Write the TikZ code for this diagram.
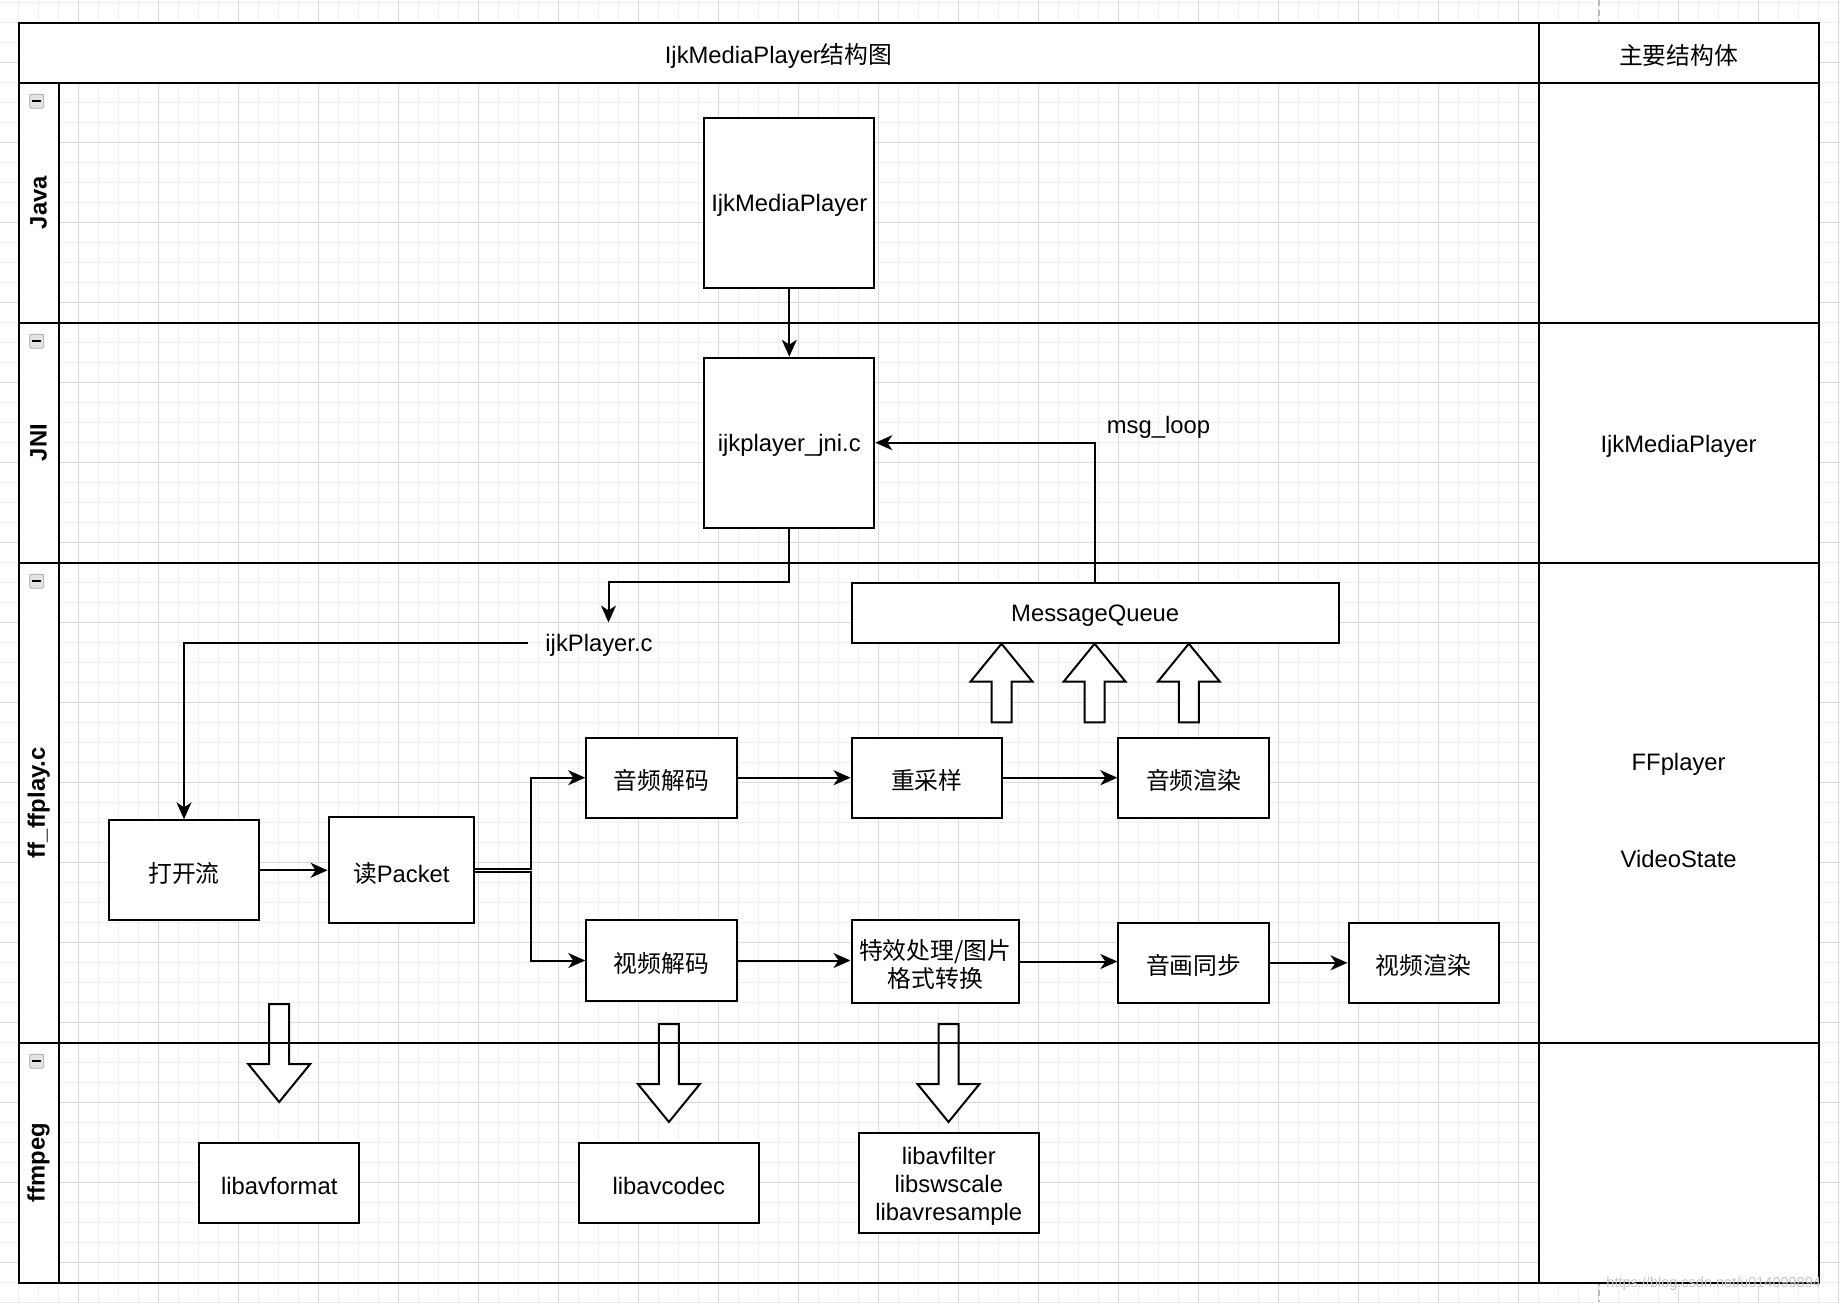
\documentclass[tikz,border=0pt]{standalone}
\usepackage{fontspec}
\setmainfont{Liberation Sans}
\newfontfamily\cjk{Noto Sans CJK SC}
\usetikzlibrary{arrows.meta,calc}
\definecolor{gminor}{HTML}{EFEFEF}
\definecolor{gmajor}{HTML}{D8D8D8}
\newcommand{\fs}{\fontsize{23.8pt}{28pt}\selectfont}
\newcommand{\dn}[1]{\raisebox{-3pt}[\height][\depth]{#1}}
\newcommand{\blkup}[3]{\draw[blk] ({#1-10},#3) -- ({#1-10},{#2+38}) -- ({#1-31},{#2+38}) -- (#1,#2) -- ({#1+31},{#2+38}) -- ({#1+10},{#2+38}) -- ({#1+10},#3) -- cycle;}
\newcommand{\blkdown}[3]{\draw[blk] ({#1-10},#2) -- ({#1-10},{#3-38}) -- ({#1-31},{#3-38}) -- (#1,#3) -- ({#1+31},{#3-38}) -- ({#1+10},{#3-38}) -- ({#1+10},#2) -- cycle;}
\newcommand{\lanicon}[2]{\node[icon] (#1) at (36.7,#2) {}; \draw[line width=2.4pt] ($(#1.center)+(-4.5,0)$) -- ($(#1.center)+(4.5,0)$);}
\begin{document}
\begin{tikzpicture}[x=1pt,y=-1pt,
  minorg/.style={draw=gminor, line width=1.2pt},
  majorg/.style={draw=gmajor, line width=1.2pt},
  lane/.style={draw=black, line width=2.2pt},
  bx/.style n args={2}{draw=black, fill=white, line width=2pt, minimum width=#1, minimum height=#2, inner sep=0pt, align=center, font=\fs},
  txt/.style={inner sep=0pt, align=center, font=\fs},
  lanelabel/.style={rotate=90, font=\fs\bfseries, inner sep=0pt},
  arr/.style={draw=black, line width=2pt, -{Stealth[length=17pt, width=15pt, inset=5pt]}},
  blk/.style={draw=black, fill=white, line width=2pt, line join=miter},
  icon/.style={draw=gray!70, fill=gray!22, line width=0.8pt, rounded corners=1.5pt, minimum width=14pt, minimum height=14pt, inner sep=0pt}
]
\useasboundingbox (0,0) rectangle (1840,1302);
\fill[white] (0,0) rectangle (1840,1302);
% background grid
\foreach \i in {0,...,92} {\draw[minorg] ({-1.4+20*\i},0) -- ({-1.4+20*\i},1302);}
\foreach \j in {0,...,65} {\draw[minorg] (0,{2.7+20*\j}) -- (1840,{2.7+20*\j});}
\foreach \i in {0,...,23} {\draw[majorg] ({-1.4+80*\i},0) -- ({-1.4+80*\i},1302);}
\foreach \j in {0,...,16} {\draw[majorg] (0,{-17.3+80*\j}) -- (1840,{-17.3+80*\j});}
% page break
\draw[gray!55, dashed, dash pattern=on 6pt off 4pt, line width=1.2pt] (1599,0) -- (1599,1302);
% white parts of the pool
\fill[white] (18.6,22.7) rectangle (1818.6,82.7);
\fill[white] (1538.6,82.7) rectangle (1818.6,1282.7);
\fill[white] (18.6,82.7) rectangle (58.6,1282.7);
% block arrows
\blkup{1001.5}{643.7}{722.3}
\blkup{1094.6}{643.7}{722.3}
\blkup{1188.8}{643.7}{722.3}
\blkdown{279.2}{1004}{1102}
\blkdown{668.9}{1024}{1122}
\blkdown{948.5}{1024}{1122}
% pool and lanes
\draw[lane] (18.6,22.7) rectangle (1818.6,1282.7);
\draw[lane] (18.6,82.7) -- (1818.6,82.7);
\draw[lane] (18.6,322.7) -- (1818.6,322.7);
\draw[lane] (18.6,562.7) -- (1818.6,562.7);
\draw[lane] (18.6,1042.7) -- (1818.6,1042.7);
\draw[lane] (58.6,82.7) -- (58.6,1282.7);
\draw[lane] (1538.6,22.7) -- (1538.6,1282.7);
% headers
\node[txt] (title) at (778.6,52.7) {\dn{IjkMediaPlayer{\cjk 结构图}}};
\node[txt] (main) at (1678.6,52.7) {\dn{\cjk 主要结构体}};
\node[lanelabel] (ljava) at (38.6,202.7) {Java};
\node[lanelabel] (ljni) at (38.6,442.7) {JNI};
\node[lanelabel] (lff) at (38.6,802.7) {ff\_ffplay.c};
\node[lanelabel] (lffm) at (38.6,1162.7) {ffmpeg};
\lanicon{ic1}{101.2}
\lanicon{ic2}{341.2}
\lanicon{ic3}{581.2}
\lanicon{ic4}{1061.2}
% right column
\node[txt] (sjni) at (1678.6,443.6) {\dn{IjkMediaPlayer}};
\node[txt] (sff1) at (1678.6,761.6) {\dn{FFplayer}};
\node[txt] (sff2) at (1678.6,855.5) {\dn{VideoState}};
% boxes
\node[bx={170pt}{170pt}] (imp) at (789.3,202.7) {\dn{IjkMediaPlayer}};
\node[bx={170pt}{170pt}] (jni) at (789.3,442.7) {\dn{ijkplayer\_jni.c}};
\node[bx={487pt}{60pt}] (mq) at (1095.2,612.7) {\dn{MessageQueue}};
\node[txt, minimum width=142pt, minimum height=40pt] (ijkc) at (599,642.7) {\dn{ijkPlayer.c}};
\node[txt] (msgl) at (1158.5,424) {\dn{msg\_loop}};
\node[bx={150pt}{100pt}] (open) at (184,870.3) {\dn{\cjk 打开流}};
\node[bx={145.4pt}{105.7pt}] (rp) at (401.3,870.2) {\dn{{\cjk 读}Packet}};
\node[bx={150.5pt}{80pt}] (ad) at (661.5,777.7) {\dn{\cjk 音频解码}};
\node[bx={150.5pt}{80.4pt}] (vd) at (661.5,960.5) {\dn{\cjk 视频解码}};
\node[bx={150.5pt}{80pt}] (rs) at (926.8,777.7) {\dn{\cjk 重采样}};
\node[bx={150.5pt}{80pt}] (ar) at (1193.6,777.7) {\dn{\cjk 音频渲染}};
\node[bx={167.4pt}{83pt}] (fx) at (935.2,961.5) {\dn{\cjk 特效处理/图片}\\\dn{\cjk 格式转换}};
\node[bx={150.5pt}{80.3pt}] (sync) at (1193.6,962.8) {\dn{\cjk 音画同步}};
\node[bx={150pt}{80.3pt}] (vr) at (1423.5,962.8) {\dn{\cjk 视频渲染}};
\node[bx={160pt}{80pt}] (lf) at (279.2,1182.8) {\dn{libavformat}};
\node[bx={180.3pt}{80pt}] (lc) at (668.9,1182.8) {\dn{libavcodec}};
\node[bx={180.4pt}{100.6pt}] (lfl) at (948.8,1183) {\dn{libavfilter}\\\dn{libswscale}\\\dn{libavresample}};
% connectors
\draw[arr] (imp.south) -- (jni.north);
\draw[arr] (mq.north) |- (jni.east);
\draw[arr] (jni.south) -- (jni.south |- mq.north) -| ([xshift=9.5pt]ijkc.north);
\draw[arr] (ijkc.west) -| (open.north);
\draw[arr] (open.east) -- (open.east -| rp.west);
\draw[arr] ([yshift=1.5pt]rp.east) -- ++(56.4,0) |- (ad.west);
\draw[arr] ([yshift=-1.5pt]rp.east) -- ++(56.4,0) |- (vd.west);
\draw[arr] (ad.east) -- (rs.west);
\draw[arr] (rs.east) -- (ar.west);
\draw[arr] (vd.east) -- (vd.east -| fx.west);
\draw[arr] (fx.east) -- (fx.east -| sync.west);
\draw[arr] (sync.east) -- (vr.west);
% watermark
\node[inner sep=0pt, text=gray!45, font=\fontsize{14.5pt}{16pt}\selectfont] (wm) at (1713.7,1284) {https://blog.csdn.net/u014099894};
\end{tikzpicture}
\end{document}
